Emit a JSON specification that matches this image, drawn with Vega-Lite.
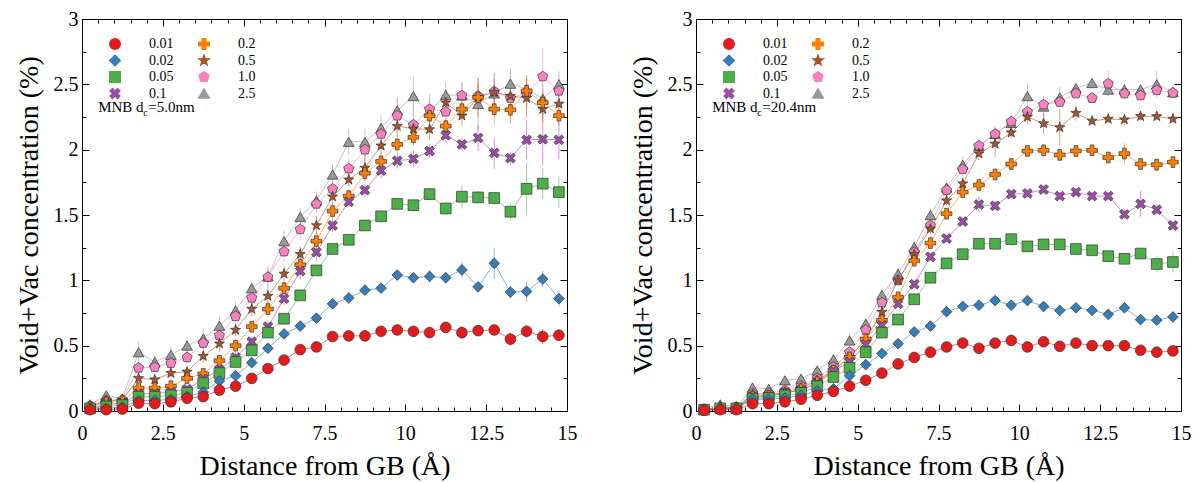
{
"$schema":"https://vega.github.io/schema/vega-lite/v6.json",
"background":"white",
"padding":{"left":14,"top":8,"right":0,"bottom":0},
"config":{"font":"Liberation Serif","view":{"stroke":"black","strokeWidth":1},
"axis":{"labelFont":"Liberation Serif","titleFont":"Liberation Serif","labelFontSize":20,"titleFontSize":28,"titleFontWeight":"normal","labelColor":"black","titleColor":"black","tickColor":"black","tickWidth":1,"domain":false,"grid":false,"labelOverlap":false,"labelFlush":false},
"legend":{"labelFont":"Liberation Serif","labelFontSize":14,"labelColor":"black"}},
"data":{"values":[
{"p":"L","s":"2.5","x":0.25,"y":0.05,"e":0.02},{"p":"L","s":"2.5","x":0.75,"y":0.12,"e":0.03},{"p":"L","s":"2.5","x":1.25,"y":0.095,"e":0.03},{"p":"L","s":"2.5","x":1.75,"y":0.45,"e":0.08},{"p":"L","s":"2.5","x":2.25,"y":0.375,"e":0.06},{"p":"L","s":"2.5","x":2.75,"y":0.43,"e":0.06},{"p":"L","s":"2.5","x":3.25,"y":0.5,"e":0.06},{"p":"L","s":"2.5","x":3.75,"y":0.555,"e":0.08},{"p":"L","s":"2.5","x":4.25,"y":0.653,"e":0.07},{"p":"L","s":"2.5","x":4.75,"y":0.77,"e":0.07},{"p":"L","s":"2.5","x":5.25,"y":0.94,"e":0.06},{"p":"L","s":"2.5","x":5.75,"y":1.03,"e":0.08},{"p":"L","s":"2.5","x":6.25,"y":1.3,"e":0.08},{"p":"L","s":"2.5","x":6.75,"y":1.485,"e":0.07},{"p":"L","s":"2.5","x":7.25,"y":1.61,"e":0.07},{"p":"L","s":"2.5","x":7.75,"y":1.81,"e":0.08},{"p":"L","s":"2.5","x":8.25,"y":2.06,"e":0.1},{"p":"L","s":"2.5","x":8.75,"y":2.06,"e":0.1},{"p":"L","s":"2.5","x":9.25,"y":2.165,"e":0.1},{"p":"L","s":"2.5","x":9.75,"y":2.3,"e":0.1},{"p":"L","s":"2.5","x":10.25,"y":2.41,"e":0.15},{"p":"L","s":"2.5","x":10.75,"y":2.29,"e":0.1},{"p":"L","s":"2.5","x":11.25,"y":2.42,"e":0.1},{"p":"L","s":"2.5","x":11.75,"y":2.415,"e":0.1},{"p":"L","s":"2.5","x":12.25,"y":2.35,"e":0.2},{"p":"L","s":"2.5","x":12.75,"y":2.43,"e":0.1},{"p":"L","s":"2.5","x":13.25,"y":2.505,"e":0.12},{"p":"L","s":"2.5","x":13.75,"y":2.465,"e":0.1},{"p":"L","s":"2.5","x":14.25,"y":2.39,"e":0.12},{"p":"L","s":"2.5","x":14.75,"y":2.5,"e":0.1},
{"p":"L","s":"1.0","x":0.25,"y":0.04,"e":0.01},{"p":"L","s":"1.0","x":0.75,"y":0.08,"e":0.02},{"p":"L","s":"1.0","x":1.25,"y":0.085,"e":0.02},{"p":"L","s":"1.0","x":1.75,"y":0.33,"e":0.04},{"p":"L","s":"1.0","x":2.25,"y":0.335,"e":0.04},{"p":"L","s":"1.0","x":2.75,"y":0.367,"e":0.05},{"p":"L","s":"1.0","x":3.25,"y":0.41,"e":0.05},{"p":"L","s":"1.0","x":3.75,"y":0.52,"e":0.05},{"p":"L","s":"1.0","x":4.25,"y":0.578,"e":0.07},{"p":"L","s":"1.0","x":4.75,"y":0.725,"e":0.06},{"p":"L","s":"1.0","x":5.25,"y":0.866,"e":0.07},{"p":"L","s":"1.0","x":5.75,"y":1.025,"e":0.07},{"p":"L","s":"1.0","x":6.25,"y":1.22,"e":0.08},{"p":"L","s":"1.0","x":6.75,"y":1.39,"e":0.08},{"p":"L","s":"1.0","x":7.25,"y":1.585,"e":0.07},{"p":"L","s":"1.0","x":7.75,"y":1.7,"e":0.07},{"p":"L","s":"1.0","x":8.25,"y":1.855,"e":0.08},{"p":"L","s":"1.0","x":8.75,"y":2.0,"e":0.08},{"p":"L","s":"1.0","x":9.25,"y":2.12,"e":0.08},{"p":"L","s":"1.0","x":9.75,"y":2.26,"e":0.12},{"p":"L","s":"1.0","x":10.25,"y":2.19,"e":0.15},{"p":"L","s":"1.0","x":10.75,"y":2.31,"e":0.12},{"p":"L","s":"1.0","x":11.25,"y":2.29,"e":0.12},{"p":"L","s":"1.0","x":11.75,"y":2.415,"e":0.1},{"p":"L","s":"1.0","x":12.25,"y":2.41,"e":0.1},{"p":"L","s":"1.0","x":12.75,"y":2.445,"e":0.1},{"p":"L","s":"1.0","x":13.25,"y":2.395,"e":0.2},{"p":"L","s":"1.0","x":13.75,"y":2.43,"e":0.12},{"p":"L","s":"1.0","x":14.25,"y":2.56,"e":0.22},{"p":"L","s":"1.0","x":14.75,"y":2.45,"e":0.1},
{"p":"L","s":"0.5","x":0.25,"y":0.03,"e":0.01},{"p":"L","s":"0.5","x":0.75,"y":0.08,"e":0.02},{"p":"L","s":"0.5","x":1.25,"y":0.085,"e":0.02},{"p":"L","s":"0.5","x":1.75,"y":0.25,"e":0.03},{"p":"L","s":"0.5","x":2.25,"y":0.24,"e":0.03},{"p":"L","s":"0.5","x":2.75,"y":0.29,"e":0.03},{"p":"L","s":"0.5","x":3.25,"y":0.3,"e":0.03},{"p":"L","s":"0.5","x":3.75,"y":0.42,"e":0.05},{"p":"L","s":"0.5","x":4.25,"y":0.515,"e":0.06},{"p":"L","s":"0.5","x":4.75,"y":0.62,"e":0.05},{"p":"L","s":"0.5","x":5.25,"y":0.78,"e":0.06},{"p":"L","s":"0.5","x":5.75,"y":0.88,"e":0.07},{"p":"L","s":"0.5","x":6.25,"y":1.05,"e":0.06},{"p":"L","s":"0.5","x":6.75,"y":1.2,"e":0.06},{"p":"L","s":"0.5","x":7.25,"y":1.42,"e":0.07},{"p":"L","s":"0.5","x":7.75,"y":1.64,"e":0.06},{"p":"L","s":"0.5","x":8.25,"y":1.77,"e":0.05},{"p":"L","s":"0.5","x":8.75,"y":1.86,"e":0.1},{"p":"L","s":"0.5","x":9.25,"y":2.03,"e":0.1},{"p":"L","s":"0.5","x":9.75,"y":2.18,"e":0.08},{"p":"L","s":"0.5","x":10.25,"y":2.16,"e":0.08},{"p":"L","s":"0.5","x":10.75,"y":2.155,"e":0.08},{"p":"L","s":"0.5","x":11.25,"y":2.36,"e":0.1},{"p":"L","s":"0.5","x":11.75,"y":2.26,"e":0.08},{"p":"L","s":"0.5","x":12.25,"y":2.4,"e":0.15},{"p":"L","s":"0.5","x":12.75,"y":2.44,"e":0.15},{"p":"L","s":"0.5","x":13.25,"y":2.41,"e":0.1},{"p":"L","s":"0.5","x":13.75,"y":2.395,"e":0.15},{"p":"L","s":"0.5","x":14.25,"y":2.31,"e":0.1},{"p":"L","s":"0.5","x":14.75,"y":2.35,"e":0.08},
{"p":"L","s":"0.2","x":0.25,"y":0.03,"e":0.01},{"p":"L","s":"0.2","x":0.75,"y":0.065,"e":0.01},{"p":"L","s":"0.2","x":1.25,"y":0.075,"e":0.01},{"p":"L","s":"0.2","x":1.75,"y":0.176,"e":0.02},{"p":"L","s":"0.2","x":2.25,"y":0.176,"e":0.02},{"p":"L","s":"0.2","x":2.75,"y":0.19,"e":0.02},{"p":"L","s":"0.2","x":3.25,"y":0.25,"e":0.03},{"p":"L","s":"0.2","x":3.75,"y":0.285,"e":0.03},{"p":"L","s":"0.2","x":4.25,"y":0.385,"e":0.03},{"p":"L","s":"0.2","x":4.75,"y":0.5,"e":0.05},{"p":"L","s":"0.2","x":5.25,"y":0.645,"e":0.04},{"p":"L","s":"0.2","x":5.75,"y":0.78,"e":0.06},{"p":"L","s":"0.2","x":6.25,"y":0.94,"e":0.05},{"p":"L","s":"0.2","x":6.75,"y":1.12,"e":0.05},{"p":"L","s":"0.2","x":7.25,"y":1.3,"e":0.07},{"p":"L","s":"0.2","x":7.75,"y":1.53,"e":0.06},{"p":"L","s":"0.2","x":8.25,"y":1.645,"e":0.05},{"p":"L","s":"0.2","x":8.75,"y":1.82,"e":0.06},{"p":"L","s":"0.2","x":9.25,"y":1.91,"e":0.05},{"p":"L","s":"0.2","x":9.75,"y":2.04,"e":0.07},{"p":"L","s":"0.2","x":10.25,"y":2.095,"e":0.07},{"p":"L","s":"0.2","x":10.75,"y":2.26,"e":0.06},{"p":"L","s":"0.2","x":11.25,"y":2.18,"e":0.06},{"p":"L","s":"0.2","x":11.75,"y":2.31,"e":0.06},{"p":"L","s":"0.2","x":12.25,"y":2.4,"e":0.1},{"p":"L","s":"0.2","x":12.75,"y":2.31,"e":0.12},{"p":"L","s":"0.2","x":13.25,"y":2.305,"e":0.1},{"p":"L","s":"0.2","x":13.75,"y":2.45,"e":0.12},{"p":"L","s":"0.2","x":14.25,"y":2.36,"e":0.1},{"p":"L","s":"0.2","x":14.75,"y":2.26,"e":0.08},
{"p":"L","s":"0.1","x":0.25,"y":0.02,"e":0.005},{"p":"L","s":"0.1","x":0.75,"y":0.05,"e":0.01},{"p":"L","s":"0.1","x":1.25,"y":0.06,"e":0.01},{"p":"L","s":"0.1","x":1.75,"y":0.13,"e":0.02},{"p":"L","s":"0.1","x":2.25,"y":0.135,"e":0.02},{"p":"L","s":"0.1","x":2.75,"y":0.145,"e":0.02},{"p":"L","s":"0.1","x":3.25,"y":0.167,"e":0.03},{"p":"L","s":"0.1","x":3.75,"y":0.245,"e":0.05},{"p":"L","s":"0.1","x":4.25,"y":0.316,"e":0.04},{"p":"L","s":"0.1","x":4.75,"y":0.41,"e":0.04},{"p":"L","s":"0.1","x":5.25,"y":0.53,"e":0.04},{"p":"L","s":"0.1","x":5.75,"y":0.645,"e":0.05},{"p":"L","s":"0.1","x":6.25,"y":0.86,"e":0.05},{"p":"L","s":"0.1","x":6.75,"y":1.07,"e":0.06},{"p":"L","s":"0.1","x":7.25,"y":1.215,"e":0.07},{"p":"L","s":"0.1","x":7.75,"y":1.42,"e":0.05},{"p":"L","s":"0.1","x":8.25,"y":1.6,"e":0.04},{"p":"L","s":"0.1","x":8.75,"y":1.69,"e":0.05},{"p":"L","s":"0.1","x":9.25,"y":1.84,"e":0.06},{"p":"L","s":"0.1","x":9.75,"y":1.915,"e":0.06},{"p":"L","s":"0.1","x":10.25,"y":1.93,"e":0.06},{"p":"L","s":"0.1","x":10.75,"y":1.99,"e":0.05},{"p":"L","s":"0.1","x":11.25,"y":2.11,"e":0.05},{"p":"L","s":"0.1","x":11.75,"y":2.04,"e":0.05},{"p":"L","s":"0.1","x":12.25,"y":2.09,"e":0.1},{"p":"L","s":"0.1","x":12.75,"y":1.975,"e":0.12},{"p":"L","s":"0.1","x":13.25,"y":1.935,"e":0.05},{"p":"L","s":"0.1","x":13.75,"y":2.075,"e":0.15},{"p":"L","s":"0.1","x":14.25,"y":2.08,"e":0.2},{"p":"L","s":"0.1","x":14.75,"y":2.075,"e":0.15},
{"p":"L","s":"0.05","x":0.25,"y":0.02,"e":0.005},{"p":"L","s":"0.05","x":0.75,"y":0.035,"e":0.01},{"p":"L","s":"0.05","x":1.25,"y":0.045,"e":0.01},{"p":"L","s":"0.05","x":1.75,"y":0.11,"e":0.015},{"p":"L","s":"0.05","x":2.25,"y":0.11,"e":0.015},{"p":"L","s":"0.05","x":2.75,"y":0.12,"e":0.02},{"p":"L","s":"0.05","x":3.25,"y":0.14,"e":0.02},{"p":"L","s":"0.05","x":3.75,"y":0.214,"e":0.02},{"p":"L","s":"0.05","x":4.25,"y":0.29,"e":0.03},{"p":"L","s":"0.05","x":4.75,"y":0.375,"e":0.02},{"p":"L","s":"0.05","x":5.25,"y":0.464,"e":0.03},{"p":"L","s":"0.05","x":5.75,"y":0.6,"e":0.03},{"p":"L","s":"0.05","x":6.25,"y":0.706,"e":0.03},{"p":"L","s":"0.05","x":6.75,"y":0.885,"e":0.03},{"p":"L","s":"0.05","x":7.25,"y":1.076,"e":0.03},{"p":"L","s":"0.05","x":7.75,"y":1.24,"e":0.03},{"p":"L","s":"0.05","x":8.25,"y":1.31,"e":0.03},{"p":"L","s":"0.05","x":8.75,"y":1.42,"e":0.03},{"p":"L","s":"0.05","x":9.25,"y":1.49,"e":0.03},{"p":"L","s":"0.05","x":9.75,"y":1.585,"e":0.04},{"p":"L","s":"0.05","x":10.25,"y":1.575,"e":0.05},{"p":"L","s":"0.05","x":10.75,"y":1.66,"e":0.04},{"p":"L","s":"0.05","x":11.25,"y":1.55,"e":0.05},{"p":"L","s":"0.05","x":11.75,"y":1.64,"e":0.09},{"p":"L","s":"0.05","x":12.25,"y":1.635,"e":0.05},{"p":"L","s":"0.05","x":12.75,"y":1.63,"e":0.05},{"p":"L","s":"0.05","x":13.25,"y":1.525,"e":0.07},{"p":"L","s":"0.05","x":13.75,"y":1.7,"e":0.2},{"p":"L","s":"0.05","x":14.25,"y":1.74,"e":0.12},{"p":"L","s":"0.05","x":14.75,"y":1.675,"e":0.12},
{"p":"L","s":"0.02","x":0.25,"y":0.015,"e":0.005},{"p":"L","s":"0.02","x":0.75,"y":0.02,"e":0.005},{"p":"L","s":"0.02","x":1.25,"y":0.03,"e":0.01},{"p":"L","s":"0.02","x":1.75,"y":0.08,"e":0.01},{"p":"L","s":"0.02","x":2.25,"y":0.08,"e":0.01},{"p":"L","s":"0.02","x":2.75,"y":0.09,"e":0.01},{"p":"L","s":"0.02","x":3.25,"y":0.11,"e":0.01},{"p":"L","s":"0.02","x":3.75,"y":0.145,"e":0.015},{"p":"L","s":"0.02","x":4.25,"y":0.23,"e":0.02},{"p":"L","s":"0.02","x":4.75,"y":0.27,"e":0.02},{"p":"L","s":"0.02","x":5.25,"y":0.37,"e":0.02},{"p":"L","s":"0.02","x":5.75,"y":0.48,"e":0.02},{"p":"L","s":"0.02","x":6.25,"y":0.59,"e":0.03},{"p":"L","s":"0.02","x":6.75,"y":0.65,"e":0.03},{"p":"L","s":"0.02","x":7.25,"y":0.71,"e":0.02},{"p":"L","s":"0.02","x":7.75,"y":0.82,"e":0.03},{"p":"L","s":"0.02","x":8.25,"y":0.865,"e":0.03},{"p":"L","s":"0.02","x":8.75,"y":0.925,"e":0.03},{"p":"L","s":"0.02","x":9.25,"y":0.94,"e":0.03},{"p":"L","s":"0.02","x":9.75,"y":1.04,"e":0.04},{"p":"L","s":"0.02","x":10.25,"y":1.02,"e":0.04},{"p":"L","s":"0.02","x":10.75,"y":1.03,"e":0.05},{"p":"L","s":"0.02","x":11.25,"y":1.02,"e":0.04},{"p":"L","s":"0.02","x":11.75,"y":1.08,"e":0.06},{"p":"L","s":"0.02","x":12.25,"y":0.95,"e":0.03},{"p":"L","s":"0.02","x":12.75,"y":1.13,"e":0.12},{"p":"L","s":"0.02","x":13.25,"y":0.91,"e":0.05},{"p":"L","s":"0.02","x":13.75,"y":0.915,"e":0.08},{"p":"L","s":"0.02","x":14.25,"y":1.01,"e":0.06},{"p":"L","s":"0.02","x":14.75,"y":0.86,"e":0.06},
{"p":"L","s":"0.01","x":0.25,"y":0.01,"e":0.005},{"p":"L","s":"0.01","x":0.75,"y":0.01,"e":0.005},{"p":"L","s":"0.01","x":1.25,"y":0.015,"e":0.005},{"p":"L","s":"0.01","x":1.75,"y":0.06,"e":0.01},{"p":"L","s":"0.01","x":2.25,"y":0.056,"e":0.01},{"p":"L","s":"0.01","x":2.75,"y":0.07,"e":0.01},{"p":"L","s":"0.01","x":3.25,"y":0.097,"e":0.01},{"p":"L","s":"0.01","x":3.75,"y":0.11,"e":0.01},{"p":"L","s":"0.01","x":4.25,"y":0.16,"e":0.015},{"p":"L","s":"0.01","x":4.75,"y":0.19,"e":0.015},{"p":"L","s":"0.01","x":5.25,"y":0.25,"e":0.015},{"p":"L","s":"0.01","x":5.75,"y":0.325,"e":0.015},{"p":"L","s":"0.01","x":6.25,"y":0.39,"e":0.02},{"p":"L","s":"0.01","x":6.75,"y":0.47,"e":0.02},{"p":"L","s":"0.01","x":7.25,"y":0.49,"e":0.02},{"p":"L","s":"0.01","x":7.75,"y":0.57,"e":0.02},{"p":"L","s":"0.01","x":8.25,"y":0.575,"e":0.03},{"p":"L","s":"0.01","x":8.75,"y":0.575,"e":0.03},{"p":"L","s":"0.01","x":9.25,"y":0.61,"e":0.03},{"p":"L","s":"0.01","x":9.75,"y":0.62,"e":0.03},{"p":"L","s":"0.01","x":10.25,"y":0.61,"e":0.03},{"p":"L","s":"0.01","x":10.75,"y":0.6,"e":0.04},{"p":"L","s":"0.01","x":11.25,"y":0.64,"e":0.03},{"p":"L","s":"0.01","x":11.75,"y":0.6,"e":0.05},{"p":"L","s":"0.01","x":12.25,"y":0.615,"e":0.03},{"p":"L","s":"0.01","x":12.75,"y":0.62,"e":0.03},{"p":"L","s":"0.01","x":13.25,"y":0.55,"e":0.05},{"p":"L","s":"0.01","x":13.75,"y":0.61,"e":0.05},{"p":"L","s":"0.01","x":14.25,"y":0.57,"e":0.06},{"p":"L","s":"0.01","x":14.75,"y":0.58,"e":0.04},
{"p":"R","s":"2.5","x":0.25,"y":0.02,"e":0.01},{"p":"R","s":"2.5","x":0.75,"y":0.05,"e":0.02},{"p":"R","s":"2.5","x":1.25,"y":0.03,"e":0.02},{"p":"R","s":"2.5","x":1.75,"y":0.18,"e":0.02},{"p":"R","s":"2.5","x":2.25,"y":0.17,"e":0.02},{"p":"R","s":"2.5","x":2.75,"y":0.235,"e":0.03},{"p":"R","s":"2.5","x":3.25,"y":0.247,"e":0.03},{"p":"R","s":"2.5","x":3.75,"y":0.31,"e":0.03},{"p":"R","s":"2.5","x":4.25,"y":0.395,"e":0.04},{"p":"R","s":"2.5","x":4.75,"y":0.54,"e":0.05},{"p":"R","s":"2.5","x":5.25,"y":0.668,"e":0.04},{"p":"R","s":"2.5","x":5.75,"y":0.89,"e":0.05},{"p":"R","s":"2.5","x":6.25,"y":1.05,"e":0.05},{"p":"R","s":"2.5","x":6.75,"y":1.255,"e":0.05},{"p":"R","s":"2.5","x":7.25,"y":1.5,"e":0.05},{"p":"R","s":"2.5","x":7.75,"y":1.71,"e":0.06},{"p":"R","s":"2.5","x":8.25,"y":1.885,"e":0.06},{"p":"R","s":"2.5","x":8.75,"y":2.03,"e":0.06},{"p":"R","s":"2.5","x":9.25,"y":2.12,"e":0.06},{"p":"R","s":"2.5","x":9.75,"y":2.205,"e":0.06},{"p":"R","s":"2.5","x":10.25,"y":2.41,"e":0.1},{"p":"R","s":"2.5","x":10.75,"y":2.33,"e":0.08},{"p":"R","s":"2.5","x":11.25,"y":2.4,"e":0.08},{"p":"R","s":"2.5","x":11.75,"y":2.47,"e":0.05},{"p":"R","s":"2.5","x":12.25,"y":2.51,"e":0.04},{"p":"R","s":"2.5","x":12.75,"y":2.46,"e":0.05},{"p":"R","s":"2.5","x":13.25,"y":2.46,"e":0.05},{"p":"R","s":"2.5","x":13.75,"y":2.46,"e":0.04},{"p":"R","s":"2.5","x":14.25,"y":2.5,"e":0.1},{"p":"R","s":"2.5","x":14.75,"y":2.44,"e":0.05},
{"p":"R","s":"1.0","x":0.25,"y":0.01,"e":0.005},{"p":"R","s":"1.0","x":0.75,"y":0.03,"e":0.01},{"p":"R","s":"1.0","x":1.25,"y":0.03,"e":0.01},{"p":"R","s":"1.0","x":1.75,"y":0.133,"e":0.015},{"p":"R","s":"1.0","x":2.25,"y":0.133,"e":0.015},{"p":"R","s":"1.0","x":2.75,"y":0.158,"e":0.02},{"p":"R","s":"1.0","x":3.25,"y":0.19,"e":0.02},{"p":"R","s":"1.0","x":3.75,"y":0.25,"e":0.03},{"p":"R","s":"1.0","x":4.25,"y":0.337,"e":0.03},{"p":"R","s":"1.0","x":4.75,"y":0.45,"e":0.03},{"p":"R","s":"1.0","x":5.25,"y":0.62,"e":0.04},{"p":"R","s":"1.0","x":5.75,"y":0.83,"e":0.04},{"p":"R","s":"1.0","x":6.25,"y":1.0,"e":0.04},{"p":"R","s":"1.0","x":6.75,"y":1.215,"e":0.04},{"p":"R","s":"1.0","x":7.25,"y":1.42,"e":0.04},{"p":"R","s":"1.0","x":7.75,"y":1.69,"e":0.05},{"p":"R","s":"1.0","x":8.25,"y":1.85,"e":0.06},{"p":"R","s":"1.0","x":8.75,"y":2.03,"e":0.04},{"p":"R","s":"1.0","x":9.25,"y":2.12,"e":0.04},{"p":"R","s":"1.0","x":9.75,"y":2.215,"e":0.05},{"p":"R","s":"1.0","x":10.25,"y":2.29,"e":0.04},{"p":"R","s":"1.0","x":10.75,"y":2.345,"e":0.04},{"p":"R","s":"1.0","x":11.25,"y":2.365,"e":0.04},{"p":"R","s":"1.0","x":11.75,"y":2.43,"e":0.04},{"p":"R","s":"1.0","x":12.25,"y":2.395,"e":0.04},{"p":"R","s":"1.0","x":12.75,"y":2.505,"e":0.1},{"p":"R","s":"1.0","x":13.25,"y":2.43,"e":0.04},{"p":"R","s":"1.0","x":13.75,"y":2.415,"e":0.04},{"p":"R","s":"1.0","x":14.25,"y":2.455,"e":0.04},{"p":"R","s":"1.0","x":14.75,"y":2.435,"e":0.04},
{"p":"R","s":"0.5","x":0.25,"y":0.01,"e":0.005},{"p":"R","s":"0.5","x":0.75,"y":0.025,"e":0.01},{"p":"R","s":"0.5","x":1.25,"y":0.025,"e":0.01},{"p":"R","s":"0.5","x":1.75,"y":0.125,"e":0.01},{"p":"R","s":"0.5","x":2.25,"y":0.12,"e":0.015},{"p":"R","s":"0.5","x":2.75,"y":0.145,"e":0.015},{"p":"R","s":"0.5","x":3.25,"y":0.176,"e":0.02},{"p":"R","s":"0.5","x":3.75,"y":0.237,"e":0.02},{"p":"R","s":"0.5","x":4.25,"y":0.31,"e":0.02},{"p":"R","s":"0.5","x":4.75,"y":0.41,"e":0.03},{"p":"R","s":"0.5","x":5.25,"y":0.55,"e":0.04},{"p":"R","s":"0.5","x":5.75,"y":0.757,"e":0.04},{"p":"R","s":"0.5","x":6.25,"y":1.0,"e":0.04},{"p":"R","s":"0.5","x":6.75,"y":1.2,"e":0.04},{"p":"R","s":"0.5","x":7.25,"y":1.395,"e":0.04},{"p":"R","s":"0.5","x":7.75,"y":1.61,"e":0.04},{"p":"R","s":"0.5","x":8.25,"y":1.74,"e":0.04},{"p":"R","s":"0.5","x":8.75,"y":1.97,"e":0.05},{"p":"R","s":"0.5","x":9.25,"y":2.045,"e":0.1},{"p":"R","s":"0.5","x":9.75,"y":2.13,"e":0.04},{"p":"R","s":"0.5","x":10.25,"y":2.25,"e":0.05},{"p":"R","s":"0.5","x":10.75,"y":2.2,"e":0.08},{"p":"R","s":"0.5","x":11.25,"y":2.17,"e":0.14},{"p":"R","s":"0.5","x":11.75,"y":2.28,"e":0.06},{"p":"R","s":"0.5","x":12.25,"y":2.22,"e":0.03},{"p":"R","s":"0.5","x":12.75,"y":2.235,"e":0.03},{"p":"R","s":"0.5","x":13.25,"y":2.23,"e":0.04},{"p":"R","s":"0.5","x":13.75,"y":2.255,"e":0.03},{"p":"R","s":"0.5","x":14.25,"y":2.255,"e":0.03},{"p":"R","s":"0.5","x":14.75,"y":2.235,"e":0.03},
{"p":"R","s":"0.2","x":0.25,"y":0.01,"e":0.005},{"p":"R","s":"0.2","x":0.75,"y":0.02,"e":0.005},{"p":"R","s":"0.2","x":1.25,"y":0.025,"e":0.005},{"p":"R","s":"0.2","x":1.75,"y":0.11,"e":0.01},{"p":"R","s":"0.2","x":2.25,"y":0.115,"e":0.01},{"p":"R","s":"0.2","x":2.75,"y":0.133,"e":0.01},{"p":"R","s":"0.2","x":3.25,"y":0.166,"e":0.015},{"p":"R","s":"0.2","x":3.75,"y":0.222,"e":0.02},{"p":"R","s":"0.2","x":4.25,"y":0.31,"e":0.02},{"p":"R","s":"0.2","x":4.75,"y":0.41,"e":0.02},{"p":"R","s":"0.2","x":5.25,"y":0.55,"e":0.03},{"p":"R","s":"0.2","x":5.75,"y":0.694,"e":0.03},{"p":"R","s":"0.2","x":6.25,"y":0.87,"e":0.03},{"p":"R","s":"0.2","x":6.75,"y":1.15,"e":0.04},{"p":"R","s":"0.2","x":7.25,"y":1.285,"e":0.04},{"p":"R","s":"0.2","x":7.75,"y":1.51,"e":0.03},{"p":"R","s":"0.2","x":8.25,"y":1.675,"e":0.03},{"p":"R","s":"0.2","x":8.75,"y":1.73,"e":0.03},{"p":"R","s":"0.2","x":9.25,"y":1.81,"e":0.04},{"p":"R","s":"0.2","x":9.75,"y":1.89,"e":0.05},{"p":"R","s":"0.2","x":10.25,"y":1.99,"e":0.04},{"p":"R","s":"0.2","x":10.75,"y":1.995,"e":0.03},{"p":"R","s":"0.2","x":11.25,"y":1.96,"e":0.04},{"p":"R","s":"0.2","x":11.75,"y":1.99,"e":0.04},{"p":"R","s":"0.2","x":12.25,"y":1.995,"e":0.04},{"p":"R","s":"0.2","x":12.75,"y":1.94,"e":0.04},{"p":"R","s":"0.2","x":13.25,"y":1.97,"e":0.08},{"p":"R","s":"0.2","x":13.75,"y":1.89,"e":0.05},{"p":"R","s":"0.2","x":14.25,"y":1.885,"e":0.05},{"p":"R","s":"0.2","x":14.75,"y":1.905,"e":0.04},
{"p":"R","s":"0.1","x":0.25,"y":0.01,"e":0.005},{"p":"R","s":"0.1","x":0.75,"y":0.02,"e":0.005},{"p":"R","s":"0.1","x":1.25,"y":0.025,"e":0.005},{"p":"R","s":"0.1","x":1.75,"y":0.107,"e":0.01},{"p":"R","s":"0.1","x":2.25,"y":0.11,"e":0.01},{"p":"R","s":"0.1","x":2.75,"y":0.14,"e":0.01},{"p":"R","s":"0.1","x":3.25,"y":0.158,"e":0.015},{"p":"R","s":"0.1","x":3.75,"y":0.21,"e":0.02},{"p":"R","s":"0.1","x":4.25,"y":0.305,"e":0.02},{"p":"R","s":"0.1","x":4.75,"y":0.375,"e":0.02},{"p":"R","s":"0.1","x":5.25,"y":0.51,"e":0.02},{"p":"R","s":"0.1","x":5.75,"y":0.655,"e":0.02},{"p":"R","s":"0.1","x":6.25,"y":0.82,"e":0.03},{"p":"R","s":"0.1","x":6.75,"y":0.97,"e":0.03},{"p":"R","s":"0.1","x":7.25,"y":1.18,"e":0.03},{"p":"R","s":"0.1","x":7.75,"y":1.32,"e":0.03},{"p":"R","s":"0.1","x":8.25,"y":1.45,"e":0.03},{"p":"R","s":"0.1","x":8.75,"y":1.58,"e":0.06},{"p":"R","s":"0.1","x":9.25,"y":1.57,"e":0.04},{"p":"R","s":"0.1","x":9.75,"y":1.66,"e":0.03},{"p":"R","s":"0.1","x":10.25,"y":1.665,"e":0.03},{"p":"R","s":"0.1","x":10.75,"y":1.695,"e":0.03},{"p":"R","s":"0.1","x":11.25,"y":1.645,"e":0.03},{"p":"R","s":"0.1","x":11.75,"y":1.675,"e":0.03},{"p":"R","s":"0.1","x":12.25,"y":1.645,"e":0.03},{"p":"R","s":"0.1","x":12.75,"y":1.645,"e":0.03},{"p":"R","s":"0.1","x":13.25,"y":1.505,"e":0.04},{"p":"R","s":"0.1","x":13.75,"y":1.585,"e":0.1},{"p":"R","s":"0.1","x":14.25,"y":1.54,"e":0.04},{"p":"R","s":"0.1","x":14.75,"y":1.42,"e":0.03},
{"p":"R","s":"0.05","x":0.25,"y":0.01,"e":0.005},{"p":"R","s":"0.05","x":0.75,"y":0.02,"e":0.005},{"p":"R","s":"0.05","x":1.25,"y":0.02,"e":0.005},{"p":"R","s":"0.05","x":1.75,"y":0.095,"e":0.01},{"p":"R","s":"0.05","x":2.25,"y":0.1,"e":0.01},{"p":"R","s":"0.05","x":2.75,"y":0.12,"e":0.01},{"p":"R","s":"0.05","x":3.25,"y":0.138,"e":0.01},{"p":"R","s":"0.05","x":3.75,"y":0.19,"e":0.015},{"p":"R","s":"0.05","x":4.25,"y":0.26,"e":0.015},{"p":"R","s":"0.05","x":4.75,"y":0.33,"e":0.02},{"p":"R","s":"0.05","x":5.25,"y":0.45,"e":0.02},{"p":"R","s":"0.05","x":5.75,"y":0.6,"e":0.02},{"p":"R","s":"0.05","x":6.25,"y":0.7,"e":0.02},{"p":"R","s":"0.05","x":6.75,"y":0.855,"e":0.02},{"p":"R","s":"0.05","x":7.25,"y":1.02,"e":0.02},{"p":"R","s":"0.05","x":7.75,"y":1.13,"e":0.02},{"p":"R","s":"0.05","x":8.25,"y":1.2,"e":0.03},{"p":"R","s":"0.05","x":8.75,"y":1.28,"e":0.03},{"p":"R","s":"0.05","x":9.25,"y":1.28,"e":0.03},{"p":"R","s":"0.05","x":9.75,"y":1.315,"e":0.05},{"p":"R","s":"0.05","x":10.25,"y":1.26,"e":0.03},{"p":"R","s":"0.05","x":10.75,"y":1.275,"e":0.04},{"p":"R","s":"0.05","x":11.25,"y":1.275,"e":0.04},{"p":"R","s":"0.05","x":11.75,"y":1.24,"e":0.04},{"p":"R","s":"0.05","x":12.25,"y":1.23,"e":0.03},{"p":"R","s":"0.05","x":12.75,"y":1.185,"e":0.04},{"p":"R","s":"0.05","x":13.25,"y":1.165,"e":0.03},{"p":"R","s":"0.05","x":13.75,"y":1.205,"e":0.03},{"p":"R","s":"0.05","x":14.25,"y":1.125,"e":0.06},{"p":"R","s":"0.05","x":14.75,"y":1.14,"e":0.08},
{"p":"R","s":"0.02","x":0.25,"y":0.01,"e":0.005},{"p":"R","s":"0.02","x":0.75,"y":0.015,"e":0.005},{"p":"R","s":"0.02","x":1.25,"y":0.02,"e":0.005},{"p":"R","s":"0.02","x":1.75,"y":0.09,"e":0.01},{"p":"R","s":"0.02","x":2.25,"y":0.09,"e":0.01},{"p":"R","s":"0.02","x":2.75,"y":0.1,"e":0.01},{"p":"R","s":"0.02","x":3.25,"y":0.12,"e":0.01},{"p":"R","s":"0.02","x":3.75,"y":0.155,"e":0.01},{"p":"R","s":"0.02","x":4.25,"y":0.17,"e":0.015},{"p":"R","s":"0.02","x":4.75,"y":0.27,"e":0.015},{"p":"R","s":"0.02","x":5.25,"y":0.355,"e":0.015},{"p":"R","s":"0.02","x":5.75,"y":0.44,"e":0.015},{"p":"R","s":"0.02","x":6.25,"y":0.515,"e":0.015},{"p":"R","s":"0.02","x":6.75,"y":0.605,"e":0.02},{"p":"R","s":"0.02","x":7.25,"y":0.65,"e":0.02},{"p":"R","s":"0.02","x":7.75,"y":0.76,"e":0.02},{"p":"R","s":"0.02","x":8.25,"y":0.8,"e":0.02},{"p":"R","s":"0.02","x":8.75,"y":0.81,"e":0.02},{"p":"R","s":"0.02","x":9.25,"y":0.845,"e":0.02},{"p":"R","s":"0.02","x":9.75,"y":0.81,"e":0.02},{"p":"R","s":"0.02","x":10.25,"y":0.845,"e":0.02},{"p":"R","s":"0.02","x":10.75,"y":0.8,"e":0.02},{"p":"R","s":"0.02","x":11.25,"y":0.77,"e":0.02},{"p":"R","s":"0.02","x":11.75,"y":0.79,"e":0.02},{"p":"R","s":"0.02","x":12.25,"y":0.77,"e":0.02},{"p":"R","s":"0.02","x":12.75,"y":0.74,"e":0.03},{"p":"R","s":"0.02","x":13.25,"y":0.79,"e":0.02},{"p":"R","s":"0.02","x":13.75,"y":0.7,"e":0.02},{"p":"R","s":"0.02","x":14.25,"y":0.695,"e":0.02},{"p":"R","s":"0.02","x":14.75,"y":0.72,"e":0.02},
{"p":"R","s":"0.01","x":0.25,"y":0.005,"e":0.005},{"p":"R","s":"0.01","x":0.75,"y":0.01,"e":0.005},{"p":"R","s":"0.01","x":1.25,"y":0.01,"e":0.005},{"p":"R","s":"0.01","x":1.75,"y":0.056,"e":0.01},{"p":"R","s":"0.01","x":2.25,"y":0.056,"e":0.01},{"p":"R","s":"0.01","x":2.75,"y":0.07,"e":0.01},{"p":"R","s":"0.01","x":3.25,"y":0.09,"e":0.01},{"p":"R","s":"0.01","x":3.75,"y":0.12,"e":0.01},{"p":"R","s":"0.01","x":4.25,"y":0.15,"e":0.01},{"p":"R","s":"0.01","x":4.75,"y":0.19,"e":0.01},{"p":"R","s":"0.01","x":5.25,"y":0.235,"e":0.01},{"p":"R","s":"0.01","x":5.75,"y":0.29,"e":0.01},{"p":"R","s":"0.01","x":6.25,"y":0.36,"e":0.01},{"p":"R","s":"0.01","x":6.75,"y":0.41,"e":0.015},{"p":"R","s":"0.01","x":7.25,"y":0.45,"e":0.01},{"p":"R","s":"0.01","x":7.75,"y":0.49,"e":0.01},{"p":"R","s":"0.01","x":8.25,"y":0.52,"e":0.015},{"p":"R","s":"0.01","x":8.75,"y":0.48,"e":0.015},{"p":"R","s":"0.01","x":9.25,"y":0.52,"e":0.015},{"p":"R","s":"0.01","x":9.75,"y":0.54,"e":0.02},{"p":"R","s":"0.01","x":10.25,"y":0.49,"e":0.015},{"p":"R","s":"0.01","x":10.75,"y":0.53,"e":0.02},{"p":"R","s":"0.01","x":11.25,"y":0.495,"e":0.015},{"p":"R","s":"0.01","x":11.75,"y":0.52,"e":0.015},{"p":"R","s":"0.01","x":12.25,"y":0.5,"e":0.015},{"p":"R","s":"0.01","x":12.75,"y":0.5,"e":0.015},{"p":"R","s":"0.01","x":13.25,"y":0.5,"e":0.02},{"p":"R","s":"0.01","x":13.75,"y":0.465,"e":0.015},{"p":"R","s":"0.01","x":14.25,"y":0.45,"e":0.015},{"p":"R","s":"0.01","x":14.75,"y":0.46,"e":0.015}
]},
"spacing":50,
"resolve":{"scale":{"x":"independent","y":"independent","color":"independent","shape":"independent"},"legend":{"color":"independent","shape":"independent"}},
"hconcat":[
{"width":485,"height":392,
"transform":[{"filter":"datum.p === 'L'"}],
"resolve":{"axis":{"x":"independent","y":"independent"}},
"layer":[
{"mark":{"type":"errorbar","ticks":false,"rule":{"strokeWidth":1,"strokeOpacity":0.55}},
"encoding":{
"x":{"field":"x","type":"quantitative","scale":{"domain":[0,15],"nice":false},"axis":{"orient":"bottom","title":"Distance from GB (Å)","values":[0,0.5,1,1.5,2,2.5,3,3.5,4,4.5,5,5.5,6,6.5,7,7.5,8,8.5,9,9.5,10,10.5,11,11.5,12,12.5,13,13.5,14,14.5,15],"labelExpr":"datum.value % 2.5 === 0 ? format(datum.value, '~g') : ''","tickSize":{"condition":{"test":"datum.value % 2.5 === 0","value":-7},"value":-4},"labelPadding":19,"titlePadding":6}},
"y":{"field":"y","type":"quantitative","scale":{"domain":[0,3],"nice":false},"axis":{"orient":"left","title":"Void+Vac concentration (%)","values":[0,0.25,0.5,0.75,1,1.25,1.5,1.75,2,2.25,2.5,2.75,3],"labelExpr":"datum.value % 0.5 === 0 ? format(datum.value, '~g') : ''","tickSize":{"condition":{"test":"datum.value % 0.5 === 0","value":-7},"value":-4},"labelPadding":11,"titlePadding":10}},
"yError":{"field":"e"},
"color":{"field":"s","type":"nominal","scale":{"domain":["0.01","0.02","0.05","0.1","0.2","0.5","1.0","2.5"],"range":["#e41a1c","#377eb8","#4daf4a","#984ea3","#ff7f00","#a65628","#f781bf","#999999"]}}}},
{"mark":{"type":"line","strokeWidth":1,"strokeOpacity":0.6},
"encoding":{
"x":{"field":"x","type":"quantitative","axis":{"orient":"top","title":null,"labels":false,"values":[0,0.5,1,1.5,2,2.5,3,3.5,4,4.5,5,5.5,6,6.5,7,7.5,8,8.5,9,9.5,10,10.5,11,11.5,12,12.5,13,13.5,14,14.5,15],"tickSize":{"condition":{"test":"datum.value % 2.5 === 0","value":-7},"value":-4}}},
"y":{"field":"y","type":"quantitative","axis":{"orient":"right","title":null,"labels":false,"values":[0,0.25,0.5,0.75,1,1.25,1.5,1.75,2,2.25,2.5,2.75,3],"tickSize":{"condition":{"test":"datum.value % 0.5 === 0","value":-7},"value":-4}}},
"color":{"field":"s","type":"nominal"}}},
{"mark":{"type":"point","filled":true,"size":115,"stroke":"#333333","strokeWidth":0.7,"opacity":1},
"encoding":{
"x":{"field":"x","type":"quantitative","axis":null},
"y":{"field":"y","type":"quantitative","axis":null},
"color":{"field":"s","type":"nominal","legend":{"orient":"none","legendX":26,"legendY":18,"columns":2,"title":null,"padding":0,"labelFontSize":14,"symbolSize":110,"labelOffset":27,"columnPadding":23,"rowPadding":2.5,"clipHeight":14,"encode":{"symbols":{"update":{"stroke":{"value":"#333333"},"strokeWidth":{"value":0.7},"opacity":{"value":1},"fillOpacity":{"value":1}}}}}},
"shape":{"field":"s","type":"nominal","scale":{"domain":["0.01","0.02","0.05","0.1","0.2","0.5","1.0","2.5"],"range":["circle","diamond","square","M0.495,-0.919L0.919,-0.495L0.424,0L0.919,0.495L0.495,0.919L0,0.424L-0.495,0.919L-0.919,0.495L-0.424,0L-0.919,-0.495L-0.495,-0.919L0,-0.424Z","M-0.35,-1L0.35,-1L0.35,-0.35L1,-0.35L1,0.35L0.35,0.35L0.35,1L-0.35,1L-0.35,0.35L-1,0.35L-1,-0.35L-0.35,-0.35Z","M0,-1L0.235,-0.324L0.951,-0.309L0.38,0.124L0.588,0.809L0,0.4L-0.588,0.809L-0.38,0.124L-0.951,-0.309L-0.235,-0.324Z","M0,-1L0.951,-0.309L0.588,0.809L-0.588,0.809L-0.951,-0.309Z","triangle-up"]}}}},
{"data":{"values":[{}]},"mark":{"type":"text","text":"MNB d","align":"left","baseline":"alphabetic","fontSize":15,"color":"black"},
"encoding":{"x":{"datum":0.5,"type":"quantitative","axis":null},"y":{"datum":2.29,"type":"quantitative","axis":null}}},
{"data":{"values":[{}]},"mark":{"type":"text","text":"c","align":"left","baseline":"alphabetic","fontSize":10,"dx":45,"dy":4,"color":"black"},
"encoding":{"x":{"datum":0.5,"type":"quantitative","axis":null},"y":{"datum":2.29,"type":"quantitative","axis":null}}},
{"data":{"values":[{}]},"mark":{"type":"text","text":"=5.0nm","align":"left","baseline":"alphabetic","fontSize":15,"dx":50,"color":"black"},
"encoding":{"x":{"datum":0.5,"type":"quantitative","axis":null},"y":{"datum":2.29,"type":"quantitative","axis":null}}}
]},
{"width":485,"height":392,
"transform":[{"filter":"datum.p === 'R'"}],
"resolve":{"axis":{"x":"independent","y":"independent"}},
"layer":[
{"mark":{"type":"errorbar","ticks":false,"rule":{"strokeWidth":1,"strokeOpacity":0.55}},
"encoding":{
"x":{"field":"x","type":"quantitative","scale":{"domain":[0,15],"nice":false},"axis":{"orient":"bottom","title":"Distance from GB (Å)","values":[0,0.5,1,1.5,2,2.5,3,3.5,4,4.5,5,5.5,6,6.5,7,7.5,8,8.5,9,9.5,10,10.5,11,11.5,12,12.5,13,13.5,14,14.5,15],"labelExpr":"datum.value % 2.5 === 0 ? format(datum.value, '~g') : ''","tickSize":{"condition":{"test":"datum.value % 2.5 === 0","value":-7},"value":-4},"labelPadding":19,"titlePadding":6}},
"y":{"field":"y","type":"quantitative","scale":{"domain":[0,3],"nice":false},"axis":{"orient":"left","title":"Void+Vac concentration (%)","values":[0,0.25,0.5,0.75,1,1.25,1.5,1.75,2,2.25,2.5,2.75,3],"labelExpr":"datum.value % 0.5 === 0 ? format(datum.value, '~g') : ''","tickSize":{"condition":{"test":"datum.value % 0.5 === 0","value":-7},"value":-4},"labelPadding":11,"titlePadding":10}},
"yError":{"field":"e"},
"color":{"field":"s","type":"nominal","scale":{"domain":["0.01","0.02","0.05","0.1","0.2","0.5","1.0","2.5"],"range":["#e41a1c","#377eb8","#4daf4a","#984ea3","#ff7f00","#a65628","#f781bf","#999999"]}}}},
{"mark":{"type":"line","strokeWidth":1,"strokeOpacity":0.6},
"encoding":{
"x":{"field":"x","type":"quantitative","axis":{"orient":"top","title":null,"labels":false,"values":[0,0.5,1,1.5,2,2.5,3,3.5,4,4.5,5,5.5,6,6.5,7,7.5,8,8.5,9,9.5,10,10.5,11,11.5,12,12.5,13,13.5,14,14.5,15],"tickSize":{"condition":{"test":"datum.value % 2.5 === 0","value":-7},"value":-4}}},
"y":{"field":"y","type":"quantitative","axis":{"orient":"right","title":null,"labels":false,"values":[0,0.25,0.5,0.75,1,1.25,1.5,1.75,2,2.25,2.5,2.75,3],"tickSize":{"condition":{"test":"datum.value % 0.5 === 0","value":-7},"value":-4}}},
"color":{"field":"s","type":"nominal"}}},
{"mark":{"type":"point","filled":true,"size":115,"stroke":"#333333","strokeWidth":0.7,"opacity":1},
"encoding":{
"x":{"field":"x","type":"quantitative","axis":null},
"y":{"field":"y","type":"quantitative","axis":null},
"color":{"field":"s","type":"nominal","legend":{"orient":"none","legendX":26,"legendY":18,"columns":2,"title":null,"padding":0,"labelFontSize":14,"symbolSize":110,"labelOffset":27,"columnPadding":23,"rowPadding":2.5,"clipHeight":14,"encode":{"symbols":{"update":{"stroke":{"value":"#333333"},"strokeWidth":{"value":0.7},"opacity":{"value":1},"fillOpacity":{"value":1}}}}}},
"shape":{"field":"s","type":"nominal","scale":{"domain":["0.01","0.02","0.05","0.1","0.2","0.5","1.0","2.5"],"range":["circle","diamond","square","M0.495,-0.919L0.919,-0.495L0.424,0L0.919,0.495L0.495,0.919L0,0.424L-0.495,0.919L-0.919,0.495L-0.424,0L-0.919,-0.495L-0.495,-0.919L0,-0.424Z","M-0.35,-1L0.35,-1L0.35,-0.35L1,-0.35L1,0.35L0.35,0.35L0.35,1L-0.35,1L-0.35,0.35L-1,0.35L-1,-0.35L-0.35,-0.35Z","M0,-1L0.235,-0.324L0.951,-0.309L0.38,0.124L0.588,0.809L0,0.4L-0.588,0.809L-0.38,0.124L-0.951,-0.309L-0.235,-0.324Z","M0,-1L0.951,-0.309L0.588,0.809L-0.588,0.809L-0.951,-0.309Z","triangle-up"]}}}},
{"data":{"values":[{}]},"mark":{"type":"text","text":"MNB d","align":"left","baseline":"alphabetic","fontSize":15,"color":"black"},
"encoding":{"x":{"datum":0.5,"type":"quantitative","axis":null},"y":{"datum":2.29,"type":"quantitative","axis":null}}},
{"data":{"values":[{}]},"mark":{"type":"text","text":"c","align":"left","baseline":"alphabetic","fontSize":10,"dx":45,"dy":4,"color":"black"},
"encoding":{"x":{"datum":0.5,"type":"quantitative","axis":null},"y":{"datum":2.29,"type":"quantitative","axis":null}}},
{"data":{"values":[{}]},"mark":{"type":"text","text":"=20.4nm","align":"left","baseline":"alphabetic","fontSize":15,"dx":50,"color":"black"},
"encoding":{"x":{"datum":0.5,"type":"quantitative","axis":null},"y":{"datum":2.29,"type":"quantitative","axis":null}}}
]}
]
}
